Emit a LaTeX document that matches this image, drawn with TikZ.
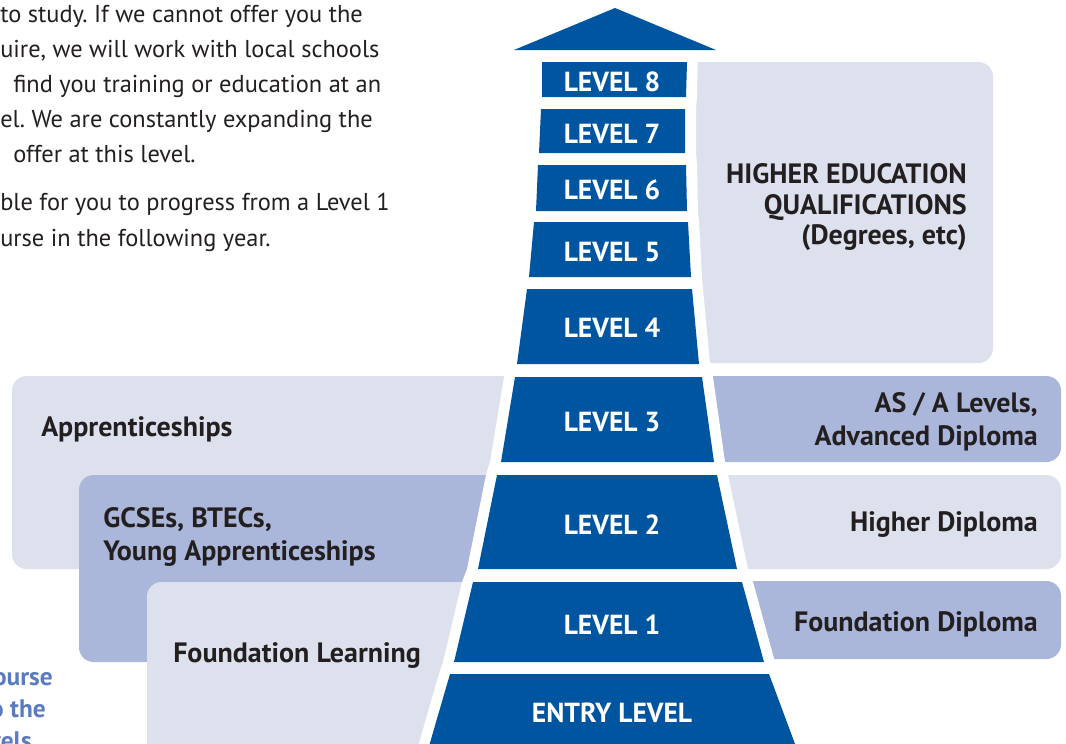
\documentclass[tikz,border=0pt]{standalone}
\usepackage{fontspec}
\setmainfont{PT Sans}
\frenchspacing
\definecolor{levelblue}{HTML}{0055A0}
\definecolor{panellight}{HTML}{DDE1EE}
\definecolor{paneldark}{HTML}{ABB7DA}
\definecolor{inkgrey}{HTML}{231F20}
\definecolor{noteblue}{HTML}{5A7BBF}

\begin{document}
\begin{tikzpicture}[x=0.75pt,y=-0.75pt,
	panel/.style={rounded corners=11pt},
	lvltext/.style={text=white,font=\fontsize{20.7}{24}\selectfont\bfseries,inner sep=0pt,anchor=base},
	qualtext/.style={text=inkgrey,font=\fontsize{21}{24}\selectfont\bfseries,inner sep=0pt},
	bodyline/.style={text=inkgrey,font=\fontsize{18.3}{26}\selectfont,inner sep=0pt,anchor=base west},
	noteline/.style={text=noteblue,font=\fontsize{19}{24}\selectfont\bfseries,inner sep=0pt,anchor=base east}]

	\useasboundingbox (0,0) rectangle (1066,743);
	\clip (0,0) rectangle (1066,743);

	%TEXT
	\node[bodyline] (t1) at (0,22.5) {to study. If we cannot offer you the};
	\node[bodyline] (t2) at (0,57.5) {uire, we will work with local schools};
	\node[bodyline] (t3) at (13,92.5) {find you training or education at an};
	\node[bodyline] (t4) at (0,127.5) {el. We are constantly expanding the};
	\node[bodyline] (t5) at (13,162.5) {offer at this level.};
	\node[bodyline] (t6) at (0,210.5) {ble for you to progress from a Level 1};
	\node[bodyline] (t7) at (0,246.5) {urse in the following year.};
	\node[noteline] (n1) at (53,685) {ourse};
	\node[noteline] (n2) at (46,717) {o the};
	\node[noteline] (n3) at (32,749) {vels};

	%PANELS LEFT
	\fill[panellight,panel] (12,376) rectangle (600,569);
	\fill[paneldark,panel] (79,475) rectangle (600,662);
	\fill[panellight,panel] (147,582) rectangle (600,790);
	%PANELS RIGHT
	\fill[panellight,panel] (640,62) rectangle (993,363);
	\fill[paneldark,panel] (640,376) rectangle (1061,462);
	\fill[panellight,panel] (640,475) rectangle (1061,569);
	\fill[paneldark,panel] (640,581) rectangle (1061,659);

	%GAP ROUND THE TOWER
	\fill[white] (531,45) -- (531,97) -- (530,109) -- (528,153) -- (527,165) -- (525,211)
		-- (523,222) -- (518,277) -- (516,289) -- (506,364) -- (504,377) -- (490,462)
		-- (486,475) -- (467,569) -- (462,582) -- (443,662) -- (439,674) -- (419,743)
		-- (414,760) -- (812,760) -- (806,743) -- (780,674) -- (775,662) -- (753,582)
		-- (748,569) -- (728,475) -- (725,462) -- (713,377) -- (710,364) -- (703,289)
		-- (702,277) -- (699,222) -- (698,211) -- (697,165) -- (696,153) -- (696,109)
		-- (697,97) -- (698,45) -- cycle;

	%TOWER
	\fill[levelblue] (542,62) -- (687,62) -- (686,97) -- (542,97) -- cycle;
	\fill[levelblue] (541,109) -- (685,109) -- (685,153) -- (539,153) -- cycle;
	\fill[levelblue] (538,165) -- (686,165) -- (687,211) -- (536,211) -- cycle;
	\fill[levelblue] (534,222) -- (688,222) -- (691,277) -- (529,277) -- cycle;
	\fill[levelblue] (527,289) -- (692,289) -- (699,364) -- (517,364) -- cycle;
	\fill[levelblue] (515,377) -- (702,377) -- (714,462) -- (501,462) -- cycle;
	\fill[levelblue] (497,475) -- (717,475) -- (737,569) -- (478,569) -- cycle;
	\fill[levelblue] (473,582) -- (742,582) -- (764,662) -- (454,662) -- cycle;
	\fill[levelblue] (450,674) -- (769,674) -- (801,760) -- (425,760) -- cycle;
	%ARROW
	\fill[levelblue] (514,50) -- (615,8) -- (716,50) -- cycle;

	%LEVELS
	\node[lvltext] (l8) at (612,91) {LEVEL 8};
	\node[lvltext] (l7) at (612,143) {LEVEL 7};
	\node[lvltext] (l6) at (612,199) {LEVEL 6};
	\node[lvltext] (l5) at (612,261) {LEVEL 5};
	\node[lvltext] (l4) at (612,337) {LEVEL 4};
	\node[lvltext] (l3) at (612,431) {LEVEL 3};
	\node[lvltext] (l2) at (612,534) {LEVEL 2};
	\node[lvltext] (l1) at (612,634) {LEVEL 1};
	\node[lvltext] (entry) at (612,722) {ENTRY LEVEL};

	%QUALIFICATIONS
	\node[qualtext,anchor=base east] (he1) at (967,183) {HIGHER EDUCATION};
	\node[qualtext,anchor=base east] (he2) at (967,214) {QUALIFICATIONS};
	\node[qualtext,anchor=base east] (he3) at (967,244) {(Degrees, etc)};
	\node[qualtext,anchor=base east] (as1) at (1038,412) {AS / A Levels,};
	\node[qualtext,anchor=base east] (as2) at (1038,445) {Advanced Diploma};
	\node[qualtext,anchor=base east] (hd) at (1038,531) {Higher Diploma};
	\node[qualtext,anchor=base east] (fd) at (1038,631) {Foundation Diploma};
	\node[qualtext,anchor=base west] (ap) at (41,436) {Apprenticeships};
	\node[qualtext,anchor=base west] (gc1) at (103,527) {GCSEs, BTECs,};
	\node[qualtext,anchor=base west] (gc2) at (103,560) {Young Apprenticeships};
	\node[qualtext,anchor=base west] (fl) at (173,662) {Foundation Learning};

\end{tikzpicture}
\end{document}
